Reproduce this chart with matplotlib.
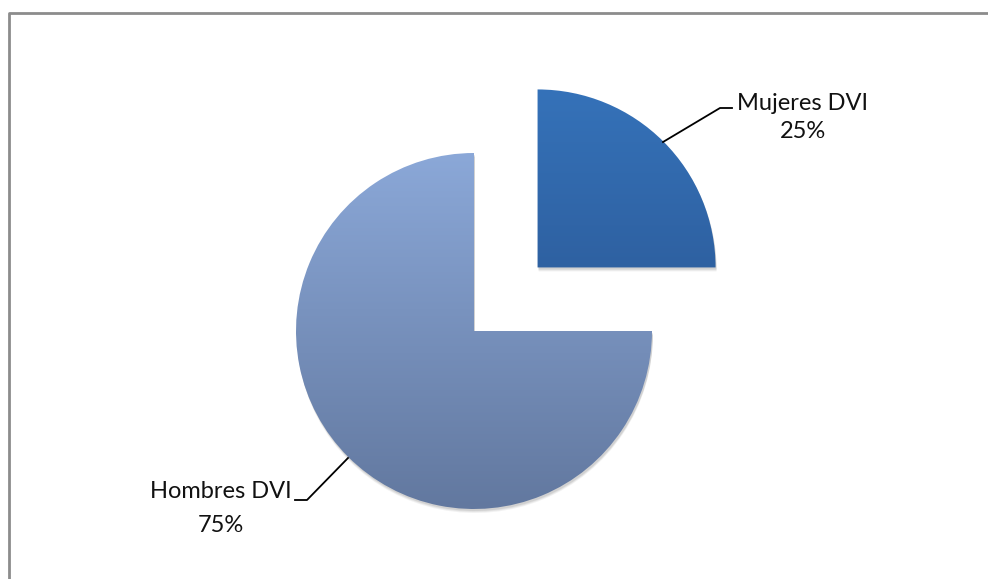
import numpy as np
import matplotlib.pyplot as plt
from matplotlib.colors import LinearSegmentedColormap
from matplotlib.patches import Wedge

labels = ["Mujeres DVI", "Hombres DVI"]
values = [25, 75]
explode = [0.505, 0]
top_colors = ["#3572b9", "#8ba8d8"]
bottom_colors = ["#28508a", "#62789f"]

W, H = 988, 579
fig = plt.figure(figsize=(W / 100, H / 100), dpi=100)
ax = fig.add_axes([0, 0, 1, 1])

cx, cy, r = 474, H - 331, 178
# pie's explode offset is in data units here, so scale by radius
wedges, _ = ax.pie(values, center=(cx, cy), radius=r,
                   explode=[e * r for e in explode],
                   startangle=90, counterclock=False, frame=True)
ax.set_xlim(0, W)
ax.set_ylim(0, H)
ax.set_aspect("equal")
ax.axis("off")

# gradient fill for each slice, plus a faint shadow
for w, c1, c2 in zip(wedges, top_colors, bottom_colors):
    w.set_facecolor("none")
    w.set_edgecolor("none")
    x0, y0 = w.center
    cmap = LinearSegmentedColormap.from_list("g", [c2, c1])
    grad = np.linspace(0, 1, 256).reshape(-1, 1)
    im = ax.imshow(grad, cmap=cmap, origin="lower", aspect="auto",
                   extent=(x0 - r, x0 + r, y0 - r, y0 + r), zorder=2)
    im.set_clip_path(w)
    for k, a in [(4, 0.05), (3, 0.06), (2, 0.08)]:
        s = Wedge((x0 + 1, y0 - k), r, w.theta1, w.theta2, facecolor="#000000",
                  alpha=a, edgecolor="none", zorder=1)
        ax.add_patch(s)
ax.set_xlim(0, W)
ax.set_ylim(0, H)

# labels with leader lines
font = dict(family=["Lato", "DejaVu Sans"], fontsize=17, color="#111111")
ax.plot([663, 720, 732], [H - 142, H - 108, H - 108], color="black", lw=1.3, zorder=3)
ax.text(802, H - 103, labels[0], ha="center", va="center", **font)
ax.text(803, H - 132, f"{values[0]}%", ha="center", va="center", **font)
ax.plot([348, 307, 295], [H - 458, H - 500, H - 500], color="black", lw=1.3, zorder=3)
ax.text(221, H - 491, labels[1], ha="center", va="center", **font)
ax.text(221, H - 526, f"{values[1]}%", ha="center", va="center", **font)

# chart border
ax.plot([8.5, 8.5, W + 5], [-5, H - 12.5, H - 12.5], color="#8c8c8c", lw=2, zorder=4)

fig.savefig("out.png", dpi=100)
